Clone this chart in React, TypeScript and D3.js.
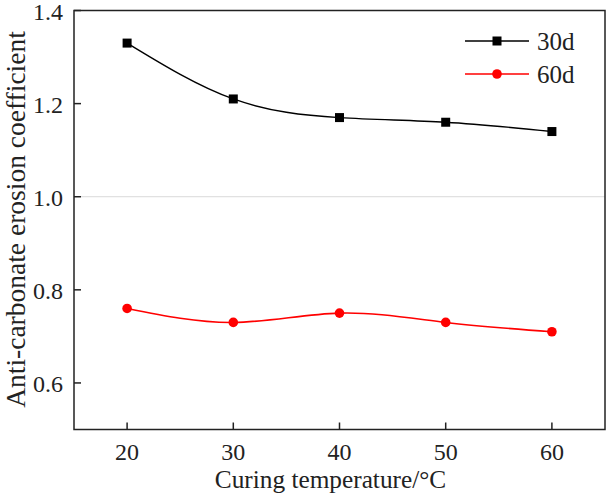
import React from "react";
import * as d3 from "d3";

const temperatures = [20, 30, 40, 50, 60];
const series30d = [1.33, 1.21, 1.17, 1.16, 1.14];
const series60d = [0.76, 0.73, 0.75, 0.73, 0.71];
const xTicks = [20, 30, 40, 50, 60];
const yTicks = [0.6, 0.8, 1.0, 1.2, 1.4];
const seriesNames = ["30d", "60d"];

const W = 608;
const H = 496;
const M = { left: 74, right: 3, top: 10.5, bottom: 66.5 };
const FONT = "'Liberation Serif', 'Times New Roman', serif";

export default function App() {
  const x = d3.scaleLinear().domain([15, 65]).range([M.left, W - M.right]);
  const y = d3.scaleLinear().domain([0.5, 1.4]).range([H - M.bottom, M.top]);
  const line = d3
    .line<number>()
    .x((_, i) => x(temperatures[i]))
    .y((d) => y(d))
    .curve(d3.curveNatural);

  const x0 = x.range()[0];
  const x1 = x.range()[1];
  const y0 = y.range()[0];
  const y1 = y.range()[1];
  const tick = 7;
  const sq = 9;

  const legendItems = [
    { name: seriesNames[0], color: "#000", shape: "square", yy: 41 },
    { name: seriesNames[1], color: "#ff0000", shape: "circle", yy: 74 },
  ];

  return (
    <svg
      width={W}
      height={H}
      style={{ position: "fixed", left: 0, top: 0, background: "#fff" }}
      fontFamily={FONT}
    >
      <rect x={0} y={0} width={W} height={H} fill="#fff" />
      {/* gridline at 1.0 */}
      <line x1={x0} x2={x1} y1={y(1.0)} y2={y(1.0)} stroke="#d9d9d9" strokeWidth={1} />

      {/* series */}
      <path d={line(series30d) || ""} fill="none" stroke="#000" strokeWidth={1.4} />
      <path d={line(series60d) || ""} fill="none" stroke="#ff0000" strokeWidth={1.6} />
      {series30d.map((v, i) => (
        <rect
          key={"s" + i}
          x={x(temperatures[i]) - sq / 2}
          y={y(v) - sq / 2}
          width={sq}
          height={sq}
          fill="#000"
        />
      ))}
      {series60d.map((v, i) => (
        <circle key={"c" + i} cx={x(temperatures[i])} cy={y(v)} r={4.8} fill="#ff0000" />
      ))}

      {/* frame */}
      <rect x={x0} y={y1} width={x1 - x0} height={y0 - y1} fill="none" stroke="#222" strokeWidth={1.5} />

      {/* x ticks */}
      {xTicks.map((t) => (
        <g key={"xt" + t}>
          <line x1={x(t)} x2={x(t)} y1={y0} y2={y0 - tick} stroke="#222" strokeWidth={1.5} />
          <text x={x(t)} y={y0 + 30} textAnchor="middle" fontSize={24} fill="#222" fontFamily={FONT}>
            {t}
          </text>
        </g>
      ))}
      {/* y ticks */}
      {yTicks.map((t) => (
        <g key={"yt" + t}>
          <line x1={x0} x2={x0 + tick} y1={y(t)} y2={y(t)} stroke="#222" strokeWidth={1.5} />
          <text x={x0 - 11} y={y(t) + 9} textAnchor="end" fontSize={24} fill="#222" fontFamily={FONT}>
            {d3.format(".1f")(t)}
          </text>
        </g>
      ))}

      {/* axis titles */}
      <text x={(x0 + x1) / 2 - 9} y={488} textAnchor="middle" fontSize={25.3} fill="#222" fontFamily={FONT}>
        Curing temperature/°C
      </text>
      <text
        transform={`translate(24.5, ${(29 + 410) / 2}) rotate(-90)`}
        textAnchor="middle"
        fontSize={27.5}
        fill="#222"
        fontFamily={FONT}
      >
        Anti-carbonate erosion coefficient
      </text>

      {/* legend */}
      {legendItems.map((it) => (
        <g key={it.name}>
          <line x1={465} x2={529} y1={it.yy} y2={it.yy} stroke={it.color} strokeWidth={1.5} />
          {it.shape === "square" ? (
            <rect x={497 - sq / 2} y={it.yy - sq / 2} width={sq} height={sq} fill={it.color} />
          ) : (
            <circle cx={497} cy={it.yy} r={4.8} fill={it.color} />
          )}
          <text x={537} y={it.yy + 8.5} fontSize={25} fill="#222" fontFamily={FONT}>
            {it.name}
          </text>
        </g>
      ))}
    </svg>
  );
}
